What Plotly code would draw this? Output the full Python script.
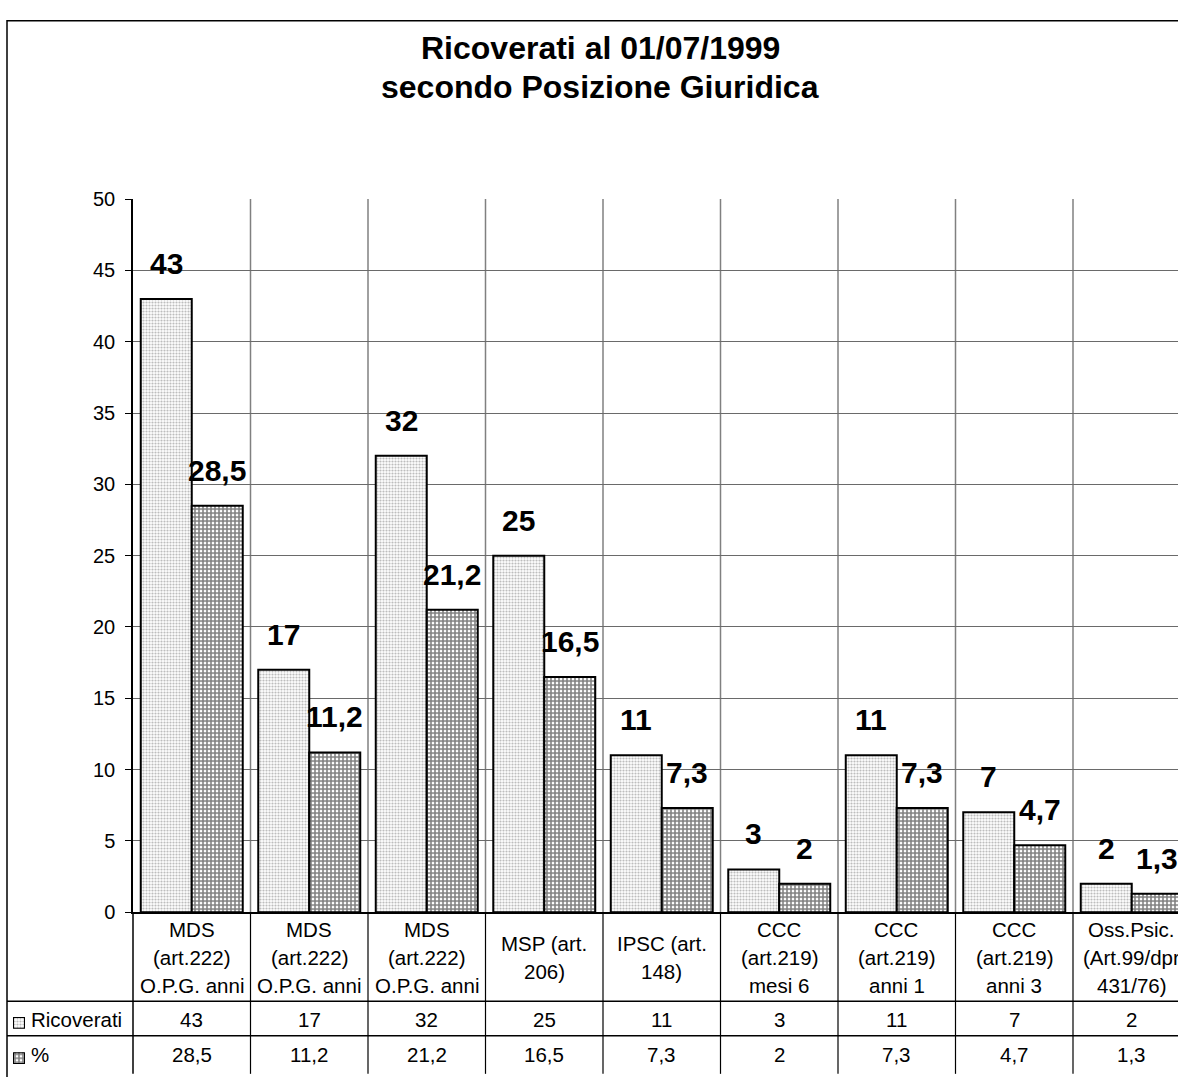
import plotly.graph_objects as go

# ---- data -------------------------------------------------------------
category_lines = [
    ["MDS", "(art.222)", "O.P.G. anni"],
    ["MDS", "(art.222)", "O.P.G. anni"],
    ["MDS", "(art.222)", "O.P.G. anni"],
    ["MSP (art.", "206)"],
    ["IPSC (art.", "148)"],
    ["CCC", "(art.219)", "mesi 6"],
    ["CCC", "(art.219)", "anni 1"],
    ["CCC", "(art.219)", "anni 3"],
    ["Oss.Psic.", "(Art.99/dpr", "431/76)"],
]
ricoverati = [43, 17, 32, 25, 11, 3, 11, 7, 2]
percentuale = [28.5, 11.2, 21.2, 16.5, 7.3, 2, 7.3, 4.7, 1.3]
series_names = ["Ricoverati", "%"]
title_lines = ["Ricoverati al 01/07/1999", "secondo Posizione Giuridica"]
y_ticks = list(range(0, 51, 5))

# ---- page geometry (pixels) -------------------------------------------
W, H = 1178, 1077
PLOT_L, PLOT_T, PLOT_B = 133, 192, 920
CAT_W = 117.5
FRAME_L, FRAME_T = 7, 10
ROW_LINES = [1011, 1046]
TABLE_BOTTOM = 1085
BARGAP = 0.132

FONT = "Liberation Sans, Arial, Helvetica, sans-serif"


def px(x):
    return x / W


def py(y):
    return (H - y) / H


def it_num(v):
    s = f"{v:g}"
    return s.replace(".", ",")


idx = list(range(len(ricoverati)))
x_max = -0.5 + (W - PLOT_L) / CAT_W

dot_pattern = dict(shape=".", fgcolor="#767676", bgcolor="white", size=3, solidity=0.42)
grid_pattern = dict(shape="+", fgcolor="black", bgcolor="white", size=4, solidity=0.62)

fig = go.Figure()
fig.add_trace(go.Bar(
    x=idx, y=ricoverati, name=series_names[0],
    marker=dict(color="white", line=dict(color="black", width=2), pattern=dot_pattern),
    hoverinfo="skip",
))
fig.add_trace(go.Bar(
    x=idx, y=percentuale, name=series_names[1],
    marker=dict(color="white", line=dict(color="black", width=2), pattern=grid_pattern),
    hoverinfo="skip",
))

# legend keys shown inside the data table rows
key_rows = [(1027, 1039, dot_pattern), (1063, 1075, grid_pattern)]
for k, (top, bottom, pat) in enumerate(key_rows, start=2):
    fig.add_trace(go.Bar(
        x=[0], y=[1], width=[1], xaxis=f"x{k}", yaxis=f"y{k}",
        marker=dict(color="white", line=dict(color="black", width=2), pattern=pat),
        showlegend=False, hoverinfo="skip",
    ))
    fig.layout[f"xaxis{k}"] = dict(domain=[px(13), px(25)], range=[-0.5, 0.5], visible=False,
                                   fixedrange=True, anchor=f"y{k}")
    fig.layout[f"yaxis{k}"] = dict(domain=[py(bottom), py(top)], range=[0, 1], visible=False,
                                   fixedrange=True, anchor=f"x{k}")

shapes = []
# vertical separators between categories: grey in the plot, black in the table
for i in idx:
    shapes.append(dict(type="line", xref="x", yref="paper", x0=i + 0.5, x1=i + 0.5,
                       y0=py(PLOT_B), y1=py(PLOT_T), layer="below",
                       line=dict(color="#808080", width=1.5)))
    shapes.append(dict(type="line", xref="x", yref="paper", x0=i + 0.5, x1=i + 0.5,
                       y0=py(TABLE_BOTTOM), y1=py(PLOT_B),
                       line=dict(color="black", width=1.2)))
# table left edge continuing the value axis
shapes.append(dict(type="line", xref="paper", yref="paper", x0=px(PLOT_L), x1=px(PLOT_L),
                   y0=py(TABLE_BOTTOM), y1=py(PLOT_B), line=dict(color="black", width=1.5)))
# table row separators
for yline in ROW_LINES:
    shapes.append(dict(type="line", xref="paper", yref="paper", x0=px(FRAME_L), x1=1.01,
                       y0=py(yline), y1=py(yline), line=dict(color="black", width=1.5)))
# chart frame
shapes.append(dict(type="rect", xref="paper", yref="paper", x0=px(FRAME_L), x1=1.05,
                   y0=-0.05, y1=py(FRAME_T), line=dict(color="black", width=1.5)))

annotations = []
# title
for j, (line, yc) in enumerate(zip(title_lines, [38, 78])):
    annotations.append(dict(text=f"<b>{line}</b>", xref="paper", yref="paper",
                            x=px(600), y=py(yc), xanchor="center", yanchor="middle",
                            showarrow=False, font=dict(family=FONT, size=32, color="black")))

# value labels above the bars
bar_w = (1 - BARGAP) / 2
for series, sign in ((ricoverati, -1), (percentuale, 1)):
    for i, v in zip(idx, series):
        annotations.append(dict(text=f"<b>{it_num(v)}</b>", xref="x", yref="y",
                                x=i + sign * bar_w / 2, y=v, xanchor="center", yanchor="bottom",
                                yshift=17, showarrow=False,
                                font=dict(family=FONT, size=30, color="black")))

# category labels in the table header row
LINE_H = 28.5
HEADER_MID = 966.5
for i, lines in zip(idx, category_lines):
    n = len(lines)
    for j, line in enumerate(lines):
        yc = HEADER_MID + (j - (n - 1) / 2) * LINE_H
        annotations.append(dict(text=line, xref="x", yref="paper", x=i, y=py(yc),
                                xanchor="center", yanchor="middle", showarrow=False,
                                font=dict(family=FONT, size=20.5, color="black")))

# data table rows
row_centers = [1029.5, 1065]
for name, series, yc in zip(series_names, (ricoverati, percentuale), row_centers):
    annotations.append(dict(text=name, xref="paper", yref="paper", x=px(29), y=py(yc),
                            xanchor="left", yanchor="middle", showarrow=False,
                            font=dict(family=FONT, size=20.5, color="black")))
    for i, v in zip(idx, series):
        annotations.append(dict(text=it_num(v), xref="x", yref="paper", x=i, y=py(yc),
                                xanchor="center", yanchor="middle", showarrow=False,
                                font=dict(family=FONT, size=20.5, color="black")))

fig.update_layout(
    width=W, height=H,
    margin=dict(l=0, r=0, t=0, b=0),
    paper_bgcolor="white", plot_bgcolor="white",
    barmode="group", bargap=BARGAP, bargroupgap=0,
    showlegend=False,
    font=dict(family=FONT, color="black"),
    shapes=shapes, annotations=annotations,
    xaxis=dict(domain=[px(PLOT_L), 1], range=[-0.5, x_max], showticklabels=False,
               showgrid=False, zeroline=False, showline=True, linecolor="black",
               linewidth=1.5, ticks="", fixedrange=True),
    yaxis=dict(domain=[py(PLOT_B), py(PLOT_T)], range=[0, 50], tickvals=y_ticks,
               showgrid=True, gridcolor="#6a6a6a", gridwidth=1, zeroline=False,
               showline=True, linecolor="black", linewidth=1.5,
               ticks="outside", ticklen=6, tickcolor="black", tickwidth=1.2,
               ticklabelstandoff=6,
               tickfont=dict(family=FONT, size=20, color="black"), fixedrange=True),
)

fig.write_html("out.html")
